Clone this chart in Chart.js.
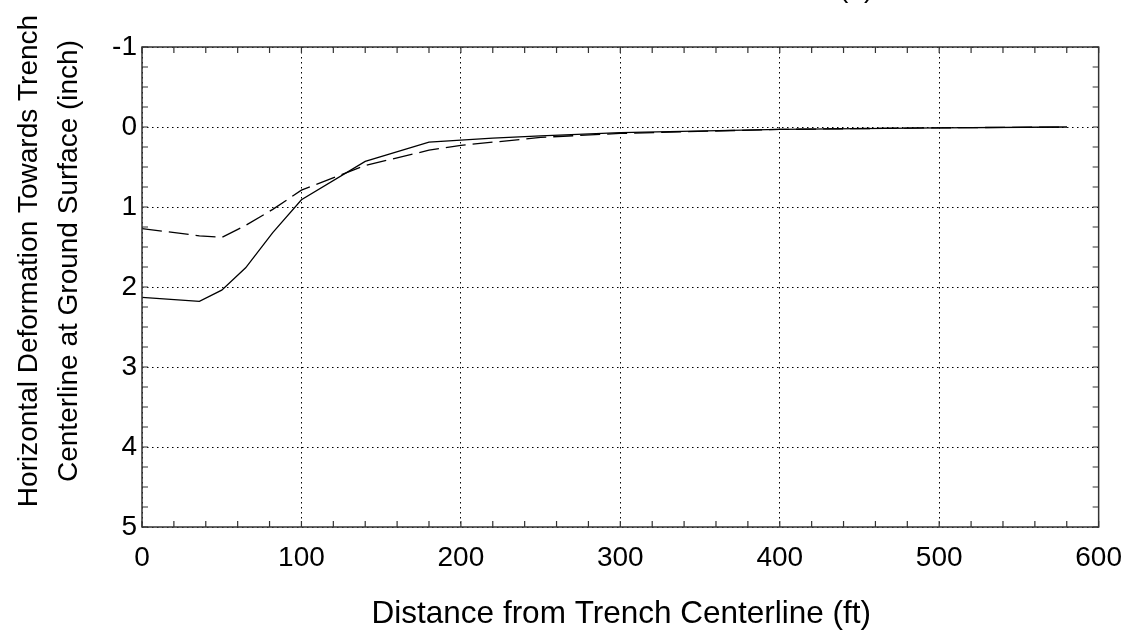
<!DOCTYPE html>
<html>
<head>
<meta charset="utf-8">
<script src="https://cdn.jsdelivr.net/npm/chart.js@4"></script>
<style>
  html, body { margin: 0; padding: 0; background: #fff; }
  #wrap { width: 1136px; height: 635px; }
</style>
</head>
<body>
<div id="wrap"><canvas id="chart" width="1136" height="635"></canvas></div>
<script>
// distance from trench centerline (ft)
const solidX = [0, 36, 50, 65, 82, 100, 140, 180, 220, 250, 300, 400, 500, 580];
const solidY = [2.13, 2.18, 2.04, 1.76, 1.32, 0.91, 0.43, 0.19, 0.14, 0.11, 0.07, 0.03, 0.01, 0.0];
const dashX = [0, 36, 50, 65, 82, 100, 140, 180, 200, 250, 300, 400, 500, 580];
const dashY = [1.27, 1.36, 1.38, 1.23, 1.03, 0.79, 0.48, 0.29, 0.23, 0.13, 0.08, 0.03, 0.01, 0.0];

const xTitle = 'Distance from Trench Centerline (ft)';
const yTitle = ['Horizontal Deformation Towards Trench', 'Centerline at Ground Surface (inch)'];
const topNote = '(a)';

const FONT = '"Liberation Sans", Arial, sans-serif';

function toPoints(xs, ys) {
    return xs.map((x, i) => ({ x: x, y: ys[i] }));
}

// frame, inward minor/major ticks on all sides, titles
const framePlugin = {
    id: 'frame',
    afterDraw(chart) {
        const ctx = chart.ctx;
        const area = chart.chartArea;
        const xs = chart.scales.x;
        const ys = chart.scales.y;
        ctx.save();
        ctx.strokeStyle = '#333';
        ctx.lineWidth = 1.5;
        ctx.strokeRect(area.left, area.top, area.right - area.left, area.bottom - area.top);

        ctx.lineWidth = 1.2;
        ctx.beginPath();
        for (let v = 0; v <= 600; v += 20) {
            const px = xs.getPixelForValue(v);
            ctx.moveTo(px, area.bottom); ctx.lineTo(px, area.bottom - 6);
            ctx.moveTo(px, area.top); ctx.lineTo(px, area.top + 6);
        }
        for (let v = -1; v <= 5.001; v += 0.25) {
            const py = ys.getPixelForValue(v);
            ctx.moveTo(area.left, py); ctx.lineTo(area.left + 6, py);
            ctx.moveTo(area.right, py); ctx.lineTo(area.right - 6, py);
        }
        ctx.stroke();

        ctx.fillStyle = '#000';
        ctx.font = '31.5px ' + FONT;
        ctx.textAlign = 'center';
        ctx.textBaseline = 'alphabetic';
        ctx.fillText(xTitle, (area.left + area.right) / 2 + 1, 623);

        ctx.font = '28px ' + FONT;
        const baselines = [36.5, 77];
        yTitle.forEach((line, i) => {
            ctx.save();
            ctx.translate(baselines[i], 261);
            ctx.rotate(-Math.PI / 2);
            ctx.fillText(line, 0, 0);
            ctx.restore();
        });

        ctx.font = '28px ' + FONT;
        ctx.textAlign = 'left';
        ctx.fillText(topNote, 839, -3);
        ctx.restore();
    }
};

const ctx = document.getElementById('chart').getContext('2d');
const chart = new Chart(ctx, {
    type: 'line',
    data: {
        datasets: [
            {
                label: 'solid',
                data: toPoints(solidX, solidY),
                borderColor: '#000',
                borderWidth: 1.3,
                pointRadius: 0,
                tension: 0,
                fill: false
            },
            {
                label: 'dashed',
                data: toPoints(dashX, dashY),
                borderColor: '#000',
                borderWidth: 1.3,
                borderDash: [20, 7],
                pointRadius: 0,
                tension: 0,
                fill: false
            }
        ]
    },
    options: {
        responsive: false,
        animation: false,
        devicePixelRatio: 1,
        layout: { padding: { left: 0, right: 36, top: 47, bottom: 0 } },
        plugins: {
            legend: { display: false },
            tooltip: { enabled: false }
        },
        scales: {
            x: {
                type: 'linear',
                min: 0,
                max: 600,
                afterFit(scale) { scale.height = 108; },
                ticks: {
                    stepSize: 100,
                    color: '#000',
                    padding: 14,
                    maxRotation: 0,
                    font: { family: FONT, size: 28 }
                },
                grid: {
                    color: '#000',
                    lineWidth: 1,
                    drawTicks: false
                },
                border: { display: false, dash: [1.5, 3.5] }
            },
            y: {
                type: 'linear',
                min: -1,
                max: 5,
                reverse: true,
                afterFit(scale) { scale.width = 142; },
                ticks: {
                    stepSize: 1,
                    color: '#000',
                    padding: 5,
                    font: { family: FONT, size: 28 }
                },
                grid: {
                    color: '#000',
                    lineWidth: 1,
                    drawTicks: false
                },
                border: { display: false, dash: [1.5, 3.5] }
            }
        }
    },
    plugins: [framePlugin]
});
</script>
</body>
</html>
